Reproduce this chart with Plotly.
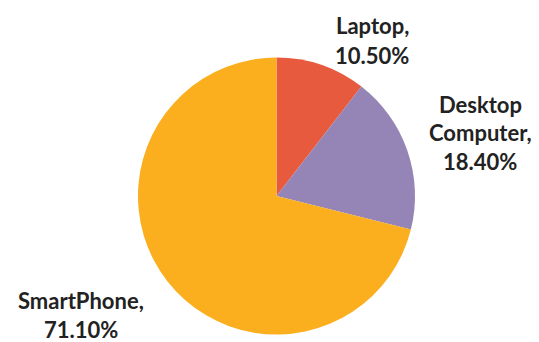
import plotly.graph_objects as go

labels = ["Laptop", "Desktop Computer", "SmartPhone"]
values = [10.5, 18.4, 71.1]
label_lines = [["Laptop,"], ["Desktop", "Computer,"], ["SmartPhone,"]]
colors = ["#E85A3E", "#9585B6", "#FBAF1E"]

W, H = 539, 342
fig = go.Figure(go.Pie(
    labels=labels, values=values, sort=False, direction="clockwise", rotation=0,
    marker=dict(colors=colors, line=dict(width=0)),
    textinfo="none", hoverinfo="label+percent",
    domain=dict(x=[138 / W, 415 / W], y=[1 - 335 / H, 1 - 57 / H]),
    showlegend=False,
))

# (center x, y of first line) in pixels, line pitch 29 px
label_pos = [(372, 26), (480, 104), (81, 300)]
pitch = 29
for lines, v, (px, py) in zip(label_lines, values, label_pos):
    all_lines = lines + [f"{v:.2f}%"]
    for i, t in enumerate(all_lines):
        fig.add_annotation(
            x=px / W, y=1 - (py + i * pitch) / H, xref="paper", yref="paper",
            text=t, showarrow=False, align="center",
            xanchor="center", yanchor="middle",
            font=dict(family="Lato", size=22, color="#222222", weight="bold"),
        )

fig.update_layout(
    width=W, height=H, margin=dict(l=0, r=0, t=0, b=0),
    paper_bgcolor="white", plot_bgcolor="white",
)
fig.write_html("out.html")
